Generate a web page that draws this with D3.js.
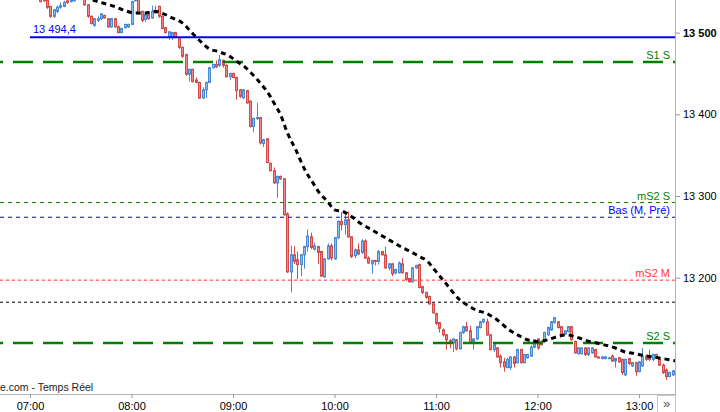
<!DOCTYPE html>
<html><head><meta charset="utf-8">
<script src="https://cdn.jsdelivr.net/npm/d3@7"></script>
<style>
body{margin:0;background:#fff;}
svg{display:block;font-family:"Liberation Sans",Arial,sans-serif;}
</style>
</head><body>
<svg id="chart" width="720" height="412"></svg>
<script>
// ---------------- DATA ----------------
const candleStart = "07:06";
const candleStepMinutes = 2;

const open = [
13544,13546,13540,13532,13520,13526,13531,13532,13539,13538,
13539,13546,13550,13545,13534,13520,13509,13515,13517,13521,
13517,13507,13517,13507,13500,13506,13507,13510,13539,13547,
13526,13516,13522,13518,13524,13532,13520,13506,13494,13494,
13500,13494,13482,13473,13449,13455,13442,13439,13420,13430,
13439,13457,13461,13460,13466,13460,13446,13450,13445,13430,
13420,13429,13416,13385,13395,13396,13364,13370,13340,13331,
13316,13324,13321,13278,13207,13228,13222,13216,13228,13238,
13250,13235,13238,13232,13201,13223,13239,13223,13249,13269,
13265,13271,13250,13227,13234,13231,13245,13224,13217,13221,
13220,13232,13228,13212,13217,13206,13206,13217,13206,13199,
13195,13212,13216,13189,13182,13177,13168,13156,13145,13136,
13130,13123,13120,13124,13113,13133,13140,13135,13122,13125,
13139,13146,13146,13130,13112,13114,13104,13097,13090,13090,
13103,13096,13112,13096,13102,13104,13115,13125,13122,13122,
13130,13136,13145,13146,13140,13131,13134,13140,13122,13107,
13107,13114,13106,13108,13112,13103,13101,13101,13101.4,13104,
13098,13102,13100,13081,13101,13092,13096,13085,13092,13104,
13104,13100,13106,13100,13093,13087,13079,13081];

const high = [
13548,13549,13544,13533,13529,13533,13537,13539,13540,13543,
13545,13555,13555,13548,13535,13521,13518,13520,13524,13522,
13518,13518,13518,13509,13506,13511,13511,13539,13551,13549,
13527,13523,13523,13533,13533,13533,13521,13507,13502,13501,
13501,13495,13483,13474,13456,13456,13445,13440,13433,13440,
13458,13462,13466,13473,13467,13461,13451,13451,13446,13431,
13431,13430,13417,13396,13414,13397,13370,13371,13341,13335,
13325,13325,13322,13280,13239,13239,13232,13229,13239,13259,
13255,13243,13239,13233,13224,13242,13242,13250,13270,13280,
13280,13281,13251,13236,13242,13247,13247,13226,13222,13222,
13234,13233,13238,13218,13218,13211,13220,13224,13207,13200,
13213,13216,13217,13190,13183,13178,13169,13157,13146,13138,
13131,13125,13126,13125,13134,13141,13146,13141,13126,13141,
13147,13150,13150,13131,13119,13115,13106,13102,13102,13104,
13104,13113,13113,13107,13107,13117,13125,13126,13123,13134,
13140,13147,13152,13147,13141,13136,13141,13141,13123,13115,
13115,13115,13115,13115,13113,13104,13104,13104,13103,13106,
13102,13103,13101,13101,13102,13097,13097,13098,13114,13106,
13112,13107,13107,13102,13095,13089,13085,13087];

const low = [
13537,13538,13529,13518,13518,13524,13529,13531,13535,13537,
13538,13544,13543,13533,13518,13510,13507,13513,13515,13517,
13506,13506,13506,13499,13499,13505,13506,13509,13538,13522,
13513,13513,13516,13517,13523,13518,13504,13499,13491,13491,
13493,13480,13469,13447,13440,13439,13438,13419,13419,13420,
13438,13456,13457,13458,13457,13445,13442,13444,13418,13420,
13419,13413,13384,13378,13393,13363,13360,13340,13330,13315,
13298,13320,13276,13206,13182,13217,13198,13202,13211,13232,
13235,13233,13217,13201,13200,13222,13221,13222,13247,13258,
13253,13249,13224,13224,13228,13229,13223,13217,13205,13215,
13216,13227,13211,13209,13202,13204,13205,13205,13196,13194,
13194,13211,13187,13180,13174,13167,13156,13142,13133,13128,
13112,13114,13109,13111,13112,13131,13134,13119,13112,13124,
13138,13144,13129,13111,13109,13102,13090,13085,13089,13087,
13090,13095,13095,13095,13101,13103,13114,13112,13117,13120,
13129,13135,13144,13138,13129,13130,13133,13123,13107,13106,
13106,13104,13104,13107,13102,13101,13100,13100,13101,13097,
13090,13096,13081,13080,13093,13091,13080,13084,13091,13098,
13098,13098,13101,13092,13082,13075,13078,13080];

const close = [
13538,13539,13531,13520,13528,13531,13533,13537,13537,13540,
13543,13550,13544,13534,13520,13511,13517,13517,13523,13518,
13507,13517,13507,13500,13505,13510,13510,13538,13548,13523,
13515,13522,13517,13526,13526,13520,13505,13500,13501,13500,
13494,13482,13471,13449,13455,13440,13439,13420,13430,13439,
13457,13461,13458,13467,13460,13446,13450,13445,13429,13422,
13430,13414,13385,13395,13396,13365,13369,13341,13331,13316,
13324,13321,13277,13207,13228,13220,13216,13228,13238,13251,
13237,13239,13231,13202,13223,13239,13224,13249,13269,13265,
13271,13250,13226,13234,13229,13245,13224,13218,13221,13220,
13232,13228,13212,13217,13205,13210,13218,13206,13198,13195,
13212,13215,13188,13182,13176,13168,13157,13144,13138,13130,
13124,13120,13125,13113,13133,13140,13135,13120,13125,13140,
13146,13149,13130,13112,13118,13103,13096,13091,13100,13103,
13095,13112,13096,13106,13106,13115,13124,13114,13118,13133,
13139,13146,13151,13139,13130,13135,13140,13124,13108,13114,
13114,13106,13114,13114,13103,13102,13103,13103,13102,13098,
13101,13097,13084,13100,13095,13096,13085,13097,13104,13100,
13100,13106,13102,13093,13084,13079,13084,13086];

const maTimes = ["07:32","07:40","07:45","07:50","07:56","08:02","08:08","08:14","08:19","08:24",
"08:30","08:33","08:37","08:42","08:46","08:51","08:58","09:02","09:07","09:11",
"09:15","09:19","09:22","09:25","09:28","09:32","09:37","09:43","09:47","09:51",
"09:56","10:00","10:05","10:10","10:15","10:20","10:25","10:30","10:35","10:40",
"10:45","10:50","10:55","10:59","11:03","11:07","11:10","11:14","11:19","11:24",
"11:29","11:35","11:44","11:50","11:54","12:00","12:06","12:12","12:17","12:22",
"12:29","12:35","12:46","12:52","12:58","13:02","13:08","13:14","13:22"];
const maValues = [13543,13538,13535,13532,13527,13524,13524,13526,13523,13518,
13512,13506,13497,13487,13480,13477,13471,13465,13458,13450,
13441,13431,13422,13411,13400,13378,13357,13330,13317,13304,
13293,13283,13281,13275,13267,13261,13255,13249,13243,13237,
13232,13226,13220,13210,13200,13190,13182,13173,13166,13160,
13157,13150,13135,13128,13124,13122,13124,13128,13130,13128,
13123,13120,13114,13109,13107,13105,13103,13101,13098];

const levelNames  = ["", "S1 S", "mS2 S", "Bas (M, Pré)", "mS2 M", "", "S2 S"];
const levelValues = [13494.4, 13464, 13292, 13274, 13197, 13170, 13120];

const timeTicks  = ["07:00","08:00","09:00","10:00","11:00","12:00","13:00"];
const priceTicks = [13200, 13300, 13400, 13500];
const sourceText = "e.com - Temps Réel";

// ---------------- STYLES (kept apart from data) ----------------
const levelStyles = [
  {color:"#0000ff", width:2,   dash:null,    offset:0,  fromX:30, labelColor:"#0000ff"},
  {color:"#008000", width:2.5, dash:"20,10", offset:17, fromX:0,  labelColor:"#008000"},
  {color:"#008000", width:1,   dash:"4,4",   offset:0,  fromX:0,  labelColor:"#008000"},
  {color:"#0000ff", width:1,   dash:"4,4",   offset:0,  fromX:0,  labelColor:"#0000ff"},
  {color:"#ff2a2a", width:1,   dash:"3,3",   offset:0,  fromX:0,  labelColor:"#ff3a3a"},
  {color:"#000000", width:1,   dash:"3,3",   offset:0,  fromX:0,  labelColor:"#000"},
  {color:"#008000", width:2.5, dash:"20,10", offset:17, fromX:0,  labelColor:"#008000"}
];

// ---------------- CHART ----------------
const W = 720, H = 412, plotRight = 675, plotBottom = 394;
const svg = d3.select("#chart");
const parse = d3.timeParse("%H:%M");
const fr = d3.formatLocale({decimal:",", thousands:" ", grouping:[3], currency:["","€"]});

const x = d3.scaleTime().domain([parse("07:00"), parse("13:00")]).range([30, 639]);
const y = d3.scaleLinear().domain([13200, 13500]).range([277.7, 32.6]);

const t0 = parse(candleStart);
const candles = open.map((o, i) => ({
  t: d3.timeMinute.offset(t0, i * candleStepMinutes),
  o, h: high[i], l: low[i], c: close[i]
}));

svg.append("defs").append("clipPath").attr("id","plotClip")
  .append("rect").attr("x",0).attr("y",0).attr("width",plotRight).attr("height",plotBottom);

const plot = svg.append("g").attr("clip-path","url(#plotClip)");

// candles
const cg = plot.append("g");
candles.forEach(d => {
  const up = d.c > d.o;
  const stroke = up ? "#4a89d4" : "#d24a4a";
  const fill = up ? "#8fbcec" : "#f08888";
  const cx = Math.round(x(d.t));
  cg.append("line")
    .attr("x1", cx + 0.5).attr("x2", cx + 0.5)
    .attr("y1", y(d.h)).attr("y2", y(d.l))
    .attr("stroke", stroke).attr("stroke-width", 1);
  const top = y(Math.max(d.o, d.c)), bot = y(Math.min(d.o, d.c));
  cg.append("rect")
    .attr("x", cx - 1 + 0.5).attr("width", 2)
    .attr("y", top).attr("height", Math.max(1, bot - top))
    .attr("fill", fill).attr("stroke", stroke).attr("stroke-width", 1);
});

// level lines
const lg = plot.append("g");
levelValues.forEach((v, i) => {
  const s = levelStyles[i];
  const ln = lg.append("line")
    .attr("x1", s.fromX).attr("x2", plotRight)
    .attr("y1", y(v)).attr("y2", y(v))
    .attr("stroke", s.color).attr("stroke-width", s.width);
  if (s.dash) ln.attr("stroke-dasharray", s.dash).attr("stroke-dashoffset", s.offset);
});

// moving average
const ma = maTimes.map((t, i) => ({t: parse(t), v: maValues[i]}));
plot.append("path")
  .datum(ma)
  .attr("d", d3.line().x(d => x(d.t)).y(d => y(d.v)).curve(d3.curveMonotoneX))
  .attr("fill","none").attr("stroke","#000").attr("stroke-width",3)
  .attr("stroke-dasharray","5,4");

// level labels
levelValues.forEach((v, i) => {
  const s = levelStyles[i];
  if (levelNames[i]) {
    svg.append("text").attr("x", 670).attr("y", y(v) - 3)
      .attr("text-anchor","end").attr("font-size", 11)
      .attr("fill", s.labelColor).text(levelNames[i]);
  }
});
// value label on the first (solid) line
svg.append("text").attr("x", 33).attr("y", y(levelValues[0]) - 4)
  .attr("font-size", 11).attr("fill", levelStyles[0].labelColor)
  .text(fr.format(",.1f")(levelValues[0]));

// axes lines
svg.append("line").attr("x1", plotRight + 0.5).attr("x2", plotRight + 0.5)
  .attr("y1", 0).attr("y2", H).attr("stroke", "#b4b4b4").attr("stroke-width", 1);
svg.append("line").attr("x1", 0).attr("x2", plotRight)
  .attr("y1", plotBottom + 0.5).attr("y2", plotBottom + 0.5)
  .attr("stroke", "#b4b4b4").attr("stroke-width", 1);

// right axis
const ya = svg.append("g").attr("transform", `translate(${plotRight},0)`)
  .call(d3.axisRight(y).tickValues(priceTicks).tickSize(5).tickPadding(3)
    .tickFormat(fr.format(",d")));
ya.select(".domain").remove();
ya.selectAll(".tick line").attr("stroke", "#999");
ya.selectAll(".tick text").attr("font-size", 11).attr("fill", "#000")
  .attr("font-family", "Liberation Sans, Arial, sans-serif")
  .attr("font-weight", d => d === 13500 ? "bold" : "normal");

// bottom axis
const xa = svg.append("g").attr("transform", `translate(0,${plotBottom})`)
  .call(d3.axisBottom(x).tickValues(timeTicks.map(parse)).tickSize(4).tickPadding(4)
    .tickFormat(d3.timeFormat("%H:%M")));
xa.select(".domain").remove();
xa.selectAll(".tick line").attr("stroke", "#999");
xa.selectAll(".tick text").attr("font-size", 11).attr("fill", "#000")
  .attr("font-family", "Liberation Sans, Arial, sans-serif");

// source text
svg.append("text").attr("x", 0).attr("y", 391).attr("font-size", 10.5)
  .attr("fill", "#222").text(sourceText);

// scroll button
svg.append("rect").attr("x", 657.5).attr("y", 395.5).attr("width", 18).attr("height", 17)
  .attr("fill", "#fff").attr("stroke", "#c8c8c8");
svg.append("text").attr("x", 666.5).attr("y", 408).attr("text-anchor","middle")
  .attr("font-size", 13).attr("fill", "#555").text("»");
</script>
</body></html>
